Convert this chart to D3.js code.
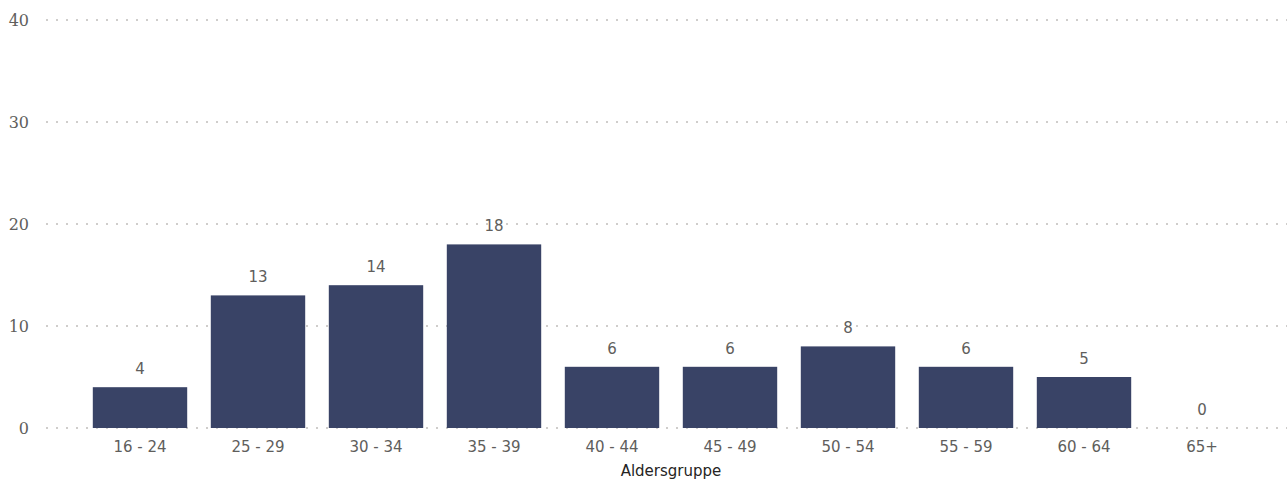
<!DOCTYPE html>
<html>
<head>
<meta charset="utf-8">
<script src="https://cdn.jsdelivr.net/npm/d3@7"></script>
<style>
  body { margin: 0; background: #fff; }
</style>
</head>
<body>
<svg id="chart" width="1287" height="481"></svg>
<script>
const categories = ['16 - 24', '25 - 29', '30 - 34', '35 - 39', '40 - 44', '45 - 49', '50 - 54', '55 - 59', '60 - 64', '65+']
const values = [4, 13, 14, 18, 6, 6, 8, 6, 5, 0]
const yTicks = [0, 10, 20, 30, 40]

const svg = d3.select('#chart')
const barColor = '#394366'
const textColor = '#605e5c'

const x = d3.scaleBand()
    .domain(categories)
    .range([81, 1261])
    .paddingInner(0.2)
    .paddingOuter(0.1)

const y = d3.scaleLinear()
    .domain([0, 40])
    .range([428, 20])

// gridlines
svg.append('g')
    .selectAll('line')
    .data(yTicks)
    .join('line')
    .attr('x1', 46)
    .attr('x2', 1287)
    .attr('y1', d => y(d))
    .attr('y2', d => y(d))
    .attr('stroke', '#cfcdcb')
    .attr('stroke-width', 2)
    .attr('stroke-dasharray', '2 8')

// y labels
svg.append('g')
    .selectAll('text')
    .data(yTicks)
    .join('text')
    .attr('x', 29)
    .attr('y', d => y(d))
    .attr('dy', '0.35em')
    .attr('text-anchor', 'end')
    .attr('font-family', 'DejaVu Serif')
    .attr('font-size', 16)
    .attr('fill', textColor)
    .text(d => d)

// bars
svg.append('g')
    .selectAll('rect')
    .data(values)
    .join('rect')
    .attr('x', (d, i) => x(categories[i]))
    .attr('y', d => y(d))
    .attr('width', x.bandwidth())
    .attr('height', d => y(0) - y(d))
    .attr('fill', barColor)

// data labels
svg.append('g')
    .selectAll('text')
    .data(values)
    .join('text')
    .attr('x', (d, i) => x(categories[i]) + x.bandwidth() / 2)
    .attr('y', d => y(d) - 13)
    .attr('text-anchor', 'middle')
    .attr('font-family', 'DejaVu Sans')
    .attr('font-size', 15)
    .attr('fill', textColor)
    .text(d => d)

// x labels
svg.append('g')
    .selectAll('text')
    .data(categories)
    .join('text')
    .attr('x', d => x(d) + x.bandwidth() / 2)
    .attr('y', 452)
    .attr('text-anchor', 'middle')
    .attr('font-family', 'DejaVu Sans')
    .attr('font-size', 15)
    .attr('fill', textColor)
    .text(d => d)

svg.append('text')
    .attr('x', x(categories[4]) + x.bandwidth() + (x.step() - x.bandwidth()) / 2)
    .attr('y', 476)
    .attr('text-anchor', 'middle')
    .attr('font-family', 'DejaVu Sans')
    .attr('font-size', 15)
    .attr('fill', '#252423')
    .text('Aldersgruppe')
</script>
</body>
</html>
